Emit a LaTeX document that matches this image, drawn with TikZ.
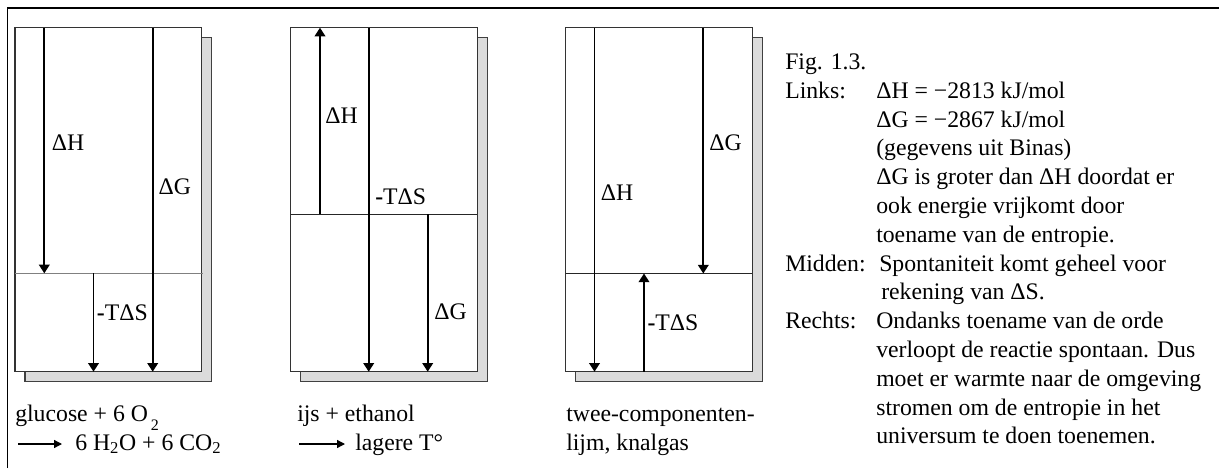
\documentclass[tikz,border=0pt]{standalone}
\usepackage{fontspec}
\setmainfont{Liberation Serif}
\usetikzlibrary{arrows.meta}
\newcommand{\mtds}{{\bfseries -}TΔS}
\begin{document}
\begin{tikzpicture}[x=0.75pt,y=-0.75pt,
  panel/.style={draw=black!80, line width=0.9pt, fill=white},
  shadowbox/.style={draw=black!75, line width=0.9pt, fill=black!14},
  level/.style={line width=0.7pt},
  flow/.style={line width=1.25pt, -{Triangle[length=6.5pt,width=8pt]}},
  textarrow/.style={line width=1pt, -{Triangle[length=6pt,width=6pt]}},
  lbl/.style={anchor=base west, inner sep=0pt, font=\fontsize{17.8pt}{21.6pt}\selectfont},
  txt/.style={anchor=base west, inner sep=0pt, font=\fontsize{17.8pt}{21.6pt}\selectfont},
]
\useasboundingbox (0,0) rectangle (1219,468);
% frame
\coordinate (F0) at (7.3,468); \coordinate (F1) at (7.3,8); \coordinate (F2) at (1219,8);
\draw[line width=1.1pt] (F0) -- (F1) -- (F2);

% ---------- left panel ----------
\draw[shadowbox] (25,37.7) rectangle (211.7,381.7);
\draw[panel] (15,27.7) rectangle (201.7,371.7);
\coordinate (LL0) at (15,273.3); \coordinate (LL1) at (203,273.3);
\draw[level, black!50] (LL0) -- (LL1);
\coordinate (LH0) at (44.3,27.7);  \coordinate (LH1) at (44.3,273.3);
\coordinate (LG0) at (152.7,27.7); \coordinate (LG1) at (152.7,371.7);
\coordinate (LS0) at (93.5,273.3); \coordinate (LS1) at (93.5,371.7);
\draw[flow] (LH0) -- (LH1);
\draw[flow] (LG0) -- (LG1);
\draw[flow] (LS0) -- (LS1);
\node[lbl] (LHl) at (51.7,150.7) {ΔH};
\node[lbl] (LGl) at (158.3,194.7) {ΔG};
\node[lbl] (LSl) at (96.7,320.7) {\mtds};

% ---------- middle panel ----------
\draw[shadowbox] (300.7,37.7) rectangle (487.3,381.7);
\draw[panel] (290.7,27.7) rectangle (477.3,371.7);
\coordinate (ML0) at (290.7,214); \coordinate (ML1) at (477.3,214);
\draw[level, black!85] (ML0) -- (ML1);
\coordinate (MH0) at (320,214);   \coordinate (MH1) at (320,27.7);
\coordinate (MS0) at (368.7,27.7); \coordinate (MS1) at (368.7,371.7);
\coordinate (MG0) at (427.7,214); \coordinate (MG1) at (427.7,371.7);
\draw[flow] (MH0) -- (MH1);
\draw[flow] (MS0) -- (MS1);
\draw[flow] (MG0) -- (MG1);
\node[lbl] (MHl) at (325,123) {ΔH};
\node[lbl] (MSl) at (375,204.7) {\mtds};
\node[lbl] (MGl) at (434,319.7) {ΔG};

% ---------- right panel ----------
\draw[shadowbox] (575.7,37.7) rectangle (762.3,381.7);
\draw[panel] (565.7,27.7) rectangle (752.3,371.7);
\coordinate (RL0) at (565.7,273.5); \coordinate (RL1) at (752.3,273.5);
\draw[level, black!85] (RL0) -- (RL1);
\coordinate (RH0) at (594.5,27.7);   \coordinate (RH1) at (594.5,371.7);
\coordinate (RG0) at (703.3,27.7); \coordinate (RG1) at (703.3,273.5);
\coordinate (RS0) at (644,371.7);  \coordinate (RS1) at (644,273.5);
\draw[flow] (RH0) -- (RH1);
\draw[flow] (RG0) -- (RG1);
\draw[flow] (RS0) -- (RS1);
\node[lbl] (RGl) at (709,150) {ΔG};
\node[lbl] (RHl) at (600.7,200) {ΔH};
\node[lbl] (RSl) at (647.3,330.5) {\mtds};

% ---------- captions under panels ----------
\node[txt] (c1a) at (15,421) {glucose + 6 O\kern2.25pt\raisebox{-7pt}{\fontsize{12pt}{12pt}\selectfont 2}};
\node[txt] (c1b) at (75,450) {6 H\textsubscript{2}O + 6 CO\textsubscript{2}};
\coordinate (a1) at (18,444);
\coordinate (a1e) at (62,444);
\draw[textarrow] (a1) -- (a1e);
\node[txt] (c2a) at (297,421) {ijs + ethanol};
\node[txt] (c2b) at (355,450) {lagere T°};
\coordinate (a2) at (299,444);
\coordinate (a2e) at (345,444);
\draw[textarrow] (a2) -- (a2e);
\node[txt] (c3a) at (566,421) {twee-componenten-};
\node[txt] (c3b) at (566,450) {lijm, knalgas};

% ---------- explanation ----------
\node[txt] (fig) at (785,69.5) {Fig. 1.3.};
\node[txt] (links) at (785,98.3) {Links:};
\node[txt] (t1) at (876,98.3) {ΔH = −2813 kJ/mol};
\node[txt] (t2) at (876,127.1) {ΔG = −2867 kJ/mol};
\node[txt] (t3) at (876,155.9) {(gegevens uit Binas)};
\node[txt] (t4) at (876,184.7) {ΔG is groter dan ΔH doordat er};
\node[txt] (t5) at (876,213.5) {ook energie vrijkomt door};
\node[txt] (t6) at (876,242.3) {toename van de entropie.};
\node[txt] (midden) at (785,271.1) {Midden:};
\node[txt] (t7) at (879,271.1) {Spontaniteit komt geheel voor};
\node[txt] (t8) at (881,299.9) {rekening van ΔS.};
\node[txt] (rechts) at (785,328.7) {Rechts:};
\node[txt] (t9) at (876,328.7) {Ondanks toename van de orde};
\node[txt] (t10) at (876,357.5) {verloopt de reactie spontaan. Dus};
\node[txt] (t11) at (876,386.3) {moet er warmte naar de omgeving};
\node[txt] (t12) at (876,415.1) {stromen om de entropie in het};
\node[txt] (t13) at (876,443.9) {universum te doen toenemen.};
\end{tikzpicture}
\end{document}
